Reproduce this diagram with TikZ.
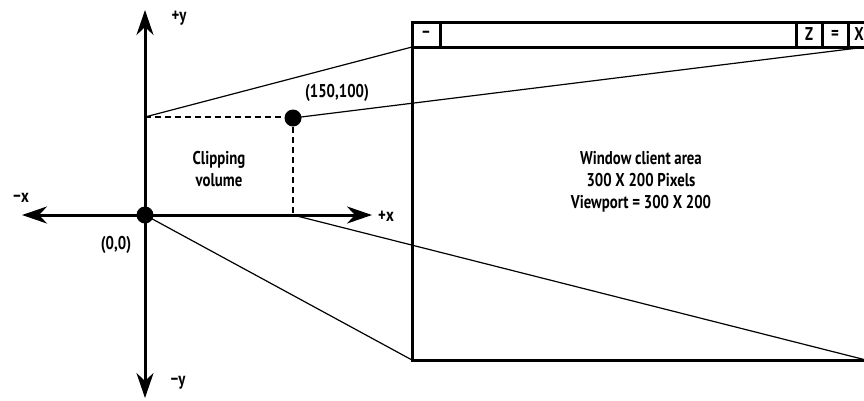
\documentclass[tikz,border=0pt]{standalone}
\usepackage{fontspec}
\setmainfont{PT Sans}[FakeStretch=0.8]
\usetikzlibrary{arrows.meta}
\tikzset{
  axis/.style={line width=3pt, -{Stealth[length=25pt,width=17pt,inset=8pt]}},
  thin/.style={line width=1.2pt},
  dashln/.style={line width=1.2pt, dash pattern=on 6pt off 4pt},
  dot/.style={circle, fill=black, inner sep=0pt, minimum size=17pt},
  frame/.style={line width=3pt},
  lbl/.style={font=\bfseries\fontsize{18.5}{22}\selectfont, inner sep=0pt},
}
\begin{document}
\begin{tikzpicture}[x=1pt,y=-1pt]
\useasboundingbox (0,0) rectangle (864,400);
\clip (0,0) rectangle (864,400);
% coordinates
\coordinate (Xl) at (22,215);
\coordinate (Xr) at (372,215);
\coordinate (Yt) at (145,10);
\coordinate (Yb) at (145,398);
\coordinate (Py) at (145,117);
\coordinate (Px) at (293,215);
\coordinate (WTL) at (412,22);
\coordinate (WTR) at (880,22);
\coordinate (WCL) at (412,47);
\coordinate (WCR) at (880,47);
\coordinate (WBL) at (412,360);
\coordinate (WBR) at (880,360);
\coordinate (Cr) at (866,47);
\coordinate (Cbr) at (866,360);
% window
\draw[frame] (WTL) rectangle (WBR);
\draw[frame] (WCL) -- (WCR);
\draw[frame] (440,22) -- (440,47);
\draw[frame] (796,22) -- (796,47);
\draw[frame] (822,22) -- (822,47);
\draw[frame] (848,22) -- (848,47);
\node[lbl] (bmin) at (426,34.5) {−};
\node[lbl] (bz) at (809,34.5) {Z};
\node[lbl] (beq) at (835,34.5) {=};
\node[lbl] (bx) at (859,34.5) {X};
% projection lines
\draw[thin] (Py) -- (WCL);
\draw[thin] (Px) -- (Cbr);
% dashed
\draw[dashln] (Py) -- (293,117);
\draw[dashln] (293,117) -- (Px);
% axes
\draw[axis] (145,215) -- (Yt);
\draw[axis] (145,215) -- (Yb);
\draw[axis] (145,215) -- (Xl);
\draw[axis] (145,215) -- (Xr);
% dots
\node[dot] (O) at (145,215) {};
\node[dot] (P) at (293,118) {};
\draw[thin] (O.center) -- (WBL);
\draw[thin] (P.center) -- (Cr);
% labels
\node[lbl] (ly) at (179,18) {+y};
\node[lbl] (lny) at (178,383) {−y};
\node[lbl] (lnx) at (21,198) {−x};
\node[lbl] (lx) at (386,216) {+x};
\node[lbl] (l00) at (116,245) {(0,0)};
\node[lbl] (lp) at (337,93) {(150,100)};
\node[lbl, align=center] (clip) at (219,169) {Clipping\\volume};
\node[lbl, align=center] (win) at (641,182) {Window client area\\300 X 200 Pixels\\Viewport = 300 X 200};
\end{tikzpicture}
\end{document}
